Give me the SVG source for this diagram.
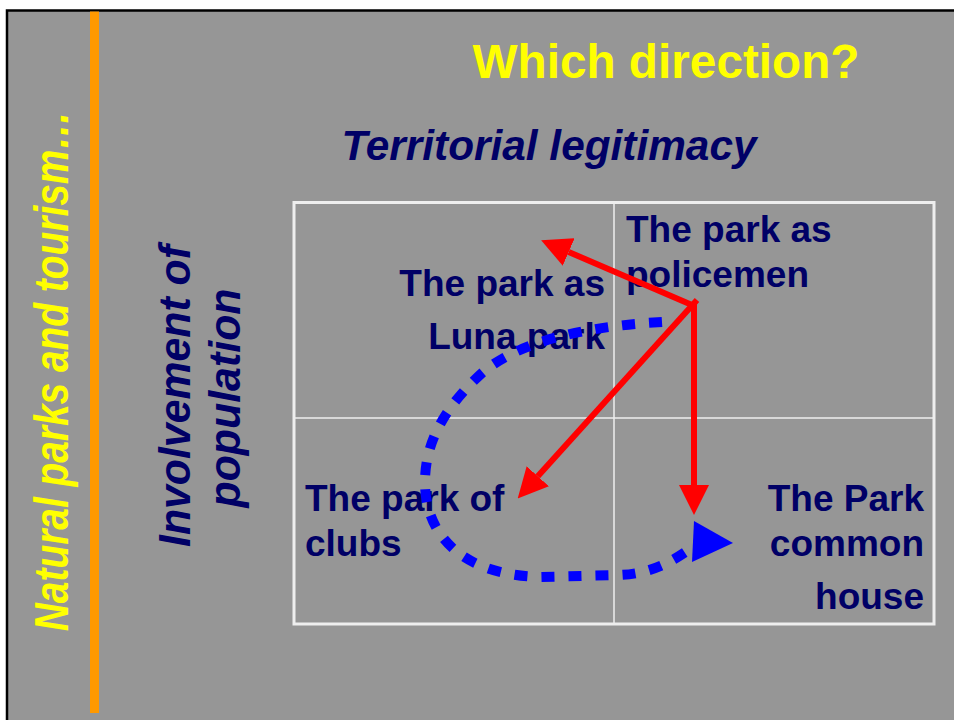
<svg xmlns="http://www.w3.org/2000/svg" width="954" height="720" viewBox="0 0 954 720">
<style>
.lbl{font-family:"Liberation Sans",Arial,sans-serif;font-weight:bold;font-size:37px;fill:#000066}
.ax{font-family:"Liberation Sans",Arial,sans-serif;font-weight:bold;font-style:italic;fill:#000066}
.yl{font-family:"Liberation Sans",Arial,sans-serif;font-weight:bold;fill:#ffff00}
.red{stroke:#ff0000;stroke-width:6;fill:none}
</style>
<defs>
<marker id="rh" markerUnits="userSpaceOnUse" markerWidth="30" markerHeight="30" viewBox="0 0 28 28" refX="0" refY="14" orient="auto">
<path d="M0,0 L28,14 L0,28 Z" fill="#ff0000"/>
</marker>
</defs>
<rect x="0" y="0" width="954" height="720" fill="#ffffff"/>
<rect x="7" y="10.5" width="960" height="720" fill="#969696" stroke="#000000" stroke-width="2.5"/>
<rect x="90" y="11.5" width="9" height="701.5" fill="#ff9900"/>
<g id="title"><text class="yl" x="666" y="78" font-size="48" text-anchor="middle" textLength="387" lengthAdjust="spacingAndGlyphs">Which direction?</text></g>
<g id="side" transform="translate(68,371) rotate(-90) scale(0.81,1)"><text class="yl" font-style="italic" font-size="48" x="0" y="0" text-anchor="middle">Natural parks and tourism…</text></g>
<g id="axis-x"><text class="ax" x="549" y="160" font-size="43" text-anchor="middle" textLength="415" lengthAdjust="spacingAndGlyphs">Territorial legitimacy</text></g>
<g id="axis-y">
<text class="ax" font-size="45" transform="translate(190,396) rotate(-90)" text-anchor="middle" textLength="302" lengthAdjust="spacingAndGlyphs">Involvement of</text>
<text class="ax" font-size="45" transform="translate(240,398) rotate(-90)" text-anchor="middle" textLength="219" lengthAdjust="spacingAndGlyphs">population</text>
</g>
<g id="grid" fill="none" stroke="#eeeeee">
<rect x="294" y="202.5" width="640" height="421.5" stroke-width="3"/>
<line x1="614" y1="202" x2="614" y2="624" stroke-width="1.5"/>
<line x1="294" y1="418" x2="934" y2="418" stroke-width="1.5"/>
</g>
<g id="q-luna">
<text class="lbl" x="605" y="296" text-anchor="end">The park as</text>
<text class="lbl" x="605" y="349" text-anchor="end">Luna park</text>
</g>
<g id="q-police">
<text class="lbl" x="626" y="242">The park as</text>
<text class="lbl" x="626" y="287">policemen</text>
</g>
<g id="q-clubs">
<text class="lbl" x="305" y="511">The park of</text>
<text class="lbl" x="305" y="556">clubs</text>
</g>
<g id="q-common">
<text class="lbl" x="924" y="511" text-anchor="end">The Park</text>
<text class="lbl" x="924" y="556" text-anchor="end">common</text>
<text class="lbl" x="924" y="609" text-anchor="end">house</text>
</g>
<g id="connectors">
<path d="M662,322 C590,326 520,340 482,373 C447,405 425,440 425,482 C425,535 462,575 540,577 L620,575 C660,573 680,555 699,543" fill="none" stroke="#0000ff" stroke-width="10" stroke-dasharray="13,14"/>
<path d="M733,543 L694,521 L692,562 Z" fill="#0000ff"/>
<line class="red" x1="692" y1="305" x2="568.7" y2="252" marker-end="url(#rh)"/>
<line class="red" x1="697" y1="300" x2="537.8" y2="476.3" marker-end="url(#rh)"/>
<line class="red" x1="694" y1="302" x2="694" y2="485" marker-end="url(#rh)"/>
</g>
</svg>
